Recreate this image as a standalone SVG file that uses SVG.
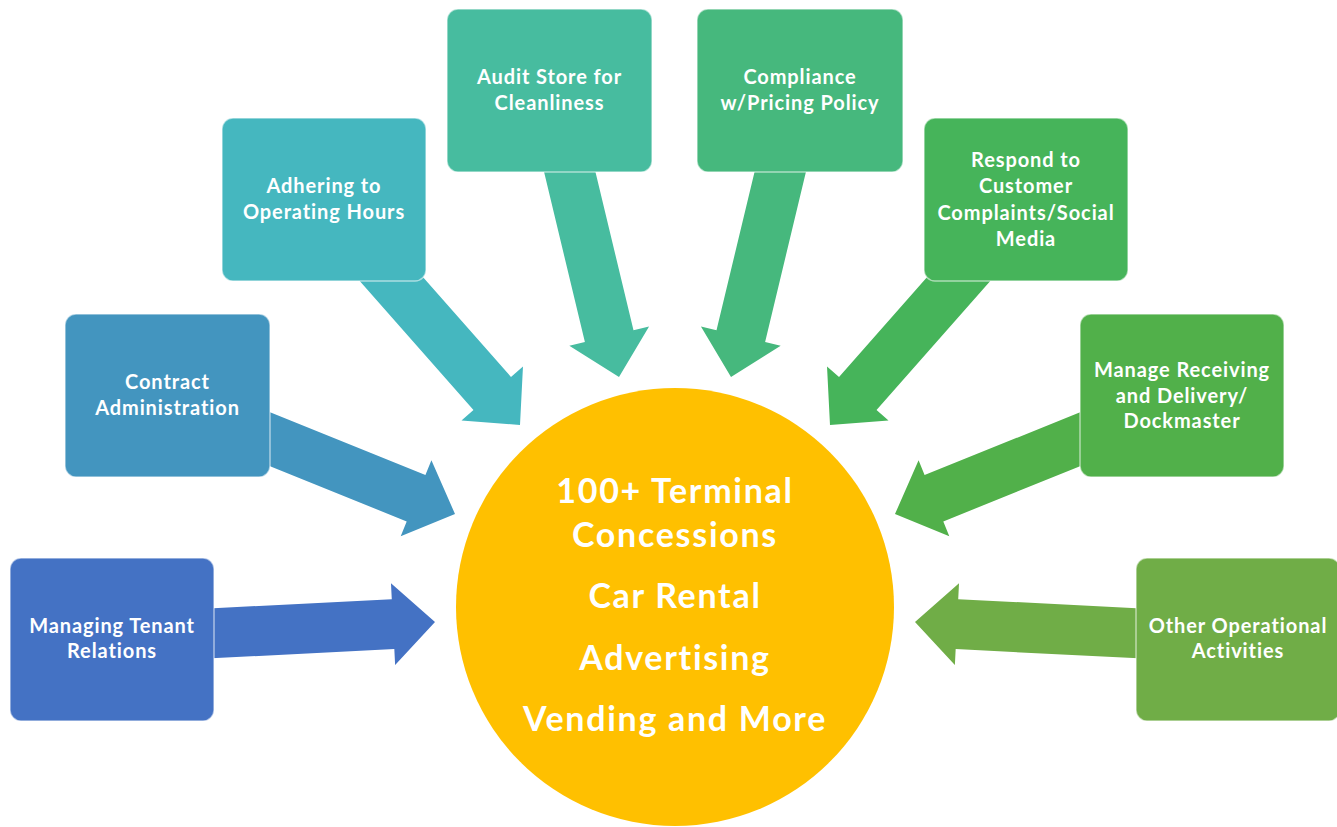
<svg xmlns="http://www.w3.org/2000/svg" xmlns:xlink="http://www.w3.org/1999/xlink" width="1337" height="827" viewBox="0 0 1337 827">
<style>
.box{stroke:#ffffff;stroke-opacity:0.55;stroke-width:1.5}
.lbl{font-family:Lato,"Open Sans","Liberation Sans",sans-serif;font-weight:bold;font-size:20px;letter-spacing:0.9px;fill:#ffffff;text-anchor:middle}
.big{font-family:Lato,"Open Sans","Liberation Sans",sans-serif;font-weight:bold;font-size:34px;letter-spacing:1.7px;fill:#ffffff;text-anchor:middle}
</style>
<defs>
<path id="arrow" d="M-235,-25 H-42 V-41 L0,0 L-42,41 V25 H-235 Z"/>
</defs>
<rect width="1337" height="827" fill="#ffffff"/>
<g id="connectors">
<use xlink:href="#arrow" fill="#4472C4" transform="translate(435,622) rotate(-2.9)"/>
<use xlink:href="#arrow" fill="#4395BF" transform="translate(455,514) rotate(22)"/>
<use xlink:href="#arrow" fill="#45B7BF" transform="translate(520,425) rotate(48.6)"/>
<use xlink:href="#arrow" fill="#47BC9F" transform="translate(619,377) rotate(76.5)"/>
<use xlink:href="#arrow" fill="#46B87D" transform="translate(731,377) rotate(103.5)"/>
<use xlink:href="#arrow" fill="#46B45A" transform="translate(830,425) rotate(131.4)"/>
<use xlink:href="#arrow" fill="#51B04A" transform="translate(895,514) rotate(158)"/>
<use xlink:href="#arrow" fill="#70AD47" transform="translate(915,622) rotate(182.9)"/>
</g>
<g id="center">
<circle cx="675" cy="607" r="219" fill="#FFC000"/>
<text class="big" x="675" y="503">100+ Terminal</text>
<text class="big" x="675" y="547">Concessions</text>
<text class="big" x="675" y="608">Car Rental</text>
<text class="big" x="675" y="670">Advertising</text>
<text class="big" x="675" y="731">Vending and More</text>
</g>
<g id="managing">
<rect class="box" x="10" y="558" width="204" height="163" rx="11" fill="#4472C4"/>
<text class="lbl" x="112" y="633">Managing Tenant</text>
<text class="lbl" x="112" y="658">Relations</text>
</g>
<g id="contract">
<rect class="box" x="65" y="314" width="205" height="163" rx="11" fill="#4395BF"/>
<text class="lbl" x="167.5" y="389">Contract</text>
<text class="lbl" x="167.5" y="415">Administration</text>
</g>
<g id="adhering">
<rect class="box" x="222" y="118" width="204" height="163" rx="11" fill="#45B7BF"/>
<text class="lbl" x="324" y="193">Adhering to</text>
<text class="lbl" x="324" y="219">Operating Hours</text>
</g>
<g id="audit">
<rect class="box" x="447" y="9" width="205" height="163" rx="11" fill="#47BC9F"/>
<text class="lbl" x="549.5" y="84">Audit Store for</text>
<text class="lbl" x="549.5" y="110">Cleanliness</text>
</g>
<g id="compliance">
<rect class="box" x="697" y="9" width="206" height="163" rx="11" fill="#46B87D"/>
<text class="lbl" x="800" y="84">Compliance</text>
<text class="lbl" x="800" y="110">w/Pricing Policy</text>
</g>
<g id="respond">
<rect class="box" x="924" y="118" width="204" height="163" rx="11" fill="#46B45A"/>
<text class="lbl" x="1026" y="167">Respond to</text>
<text class="lbl" x="1026" y="193">Customer</text>
<text class="lbl" x="1026" y="220">Complaints/Social</text>
<text class="lbl" x="1026" y="246">Media</text>
</g>
<g id="receiving">
<rect class="box" x="1080" y="314" width="204" height="163" rx="11" fill="#51B04A"/>
<text class="lbl" x="1182" y="377">Manage Receiving</text>
<text class="lbl" x="1182" y="403">and Delivery/</text>
<text class="lbl" x="1182" y="428">Dockmaster</text>
</g>
<g id="other">
<rect class="box" x="1136" y="558" width="204" height="163" rx="11" fill="#70AD47"/>
<text class="lbl" x="1238" y="633">Other Operational</text>
<text class="lbl" x="1238" y="658">Activities</text>
</g>
</svg>
